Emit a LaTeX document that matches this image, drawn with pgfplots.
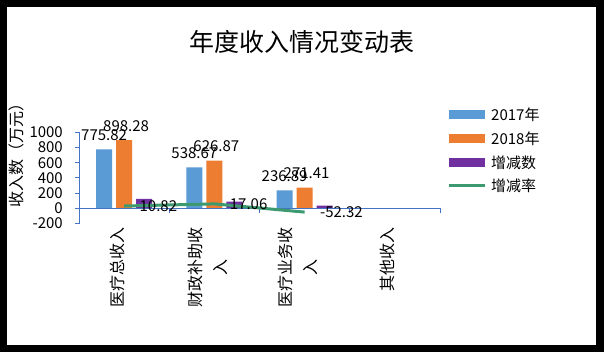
\documentclass[border=0pt]{standalone}
\usepackage{fontspec}
\setmainfont{Noto Sans CJK SC}
\usepackage{pgfplots}
\pgfplotsset{compat=1.18}
\definecolor{c17}{HTML}{5B9BD5}
\definecolor{c18}{HTML}{ED7D31}
\definecolor{cdiff}{HTML}{7030A0}
\definecolor{crate}{HTML}{3D9970}
\definecolor{axb}{HTML}{4472C4}
\begin{document}
\begin{tikzpicture}
\fill[black] (0,0) rectangle (604bp,352bp);
\fill[white] (7bp,7bp) rectangle (596bp,345bp);
\node[font=\fontsize{25bp}{30bp}\selectfont] at (301.5bp,310bp) {年度收入情况变动表};
\node[rotate=90,font=\fontsize{16bp}{19bp}\selectfont] at (16bp,200bp) {收入数（万元）};
\begin{axis}[
  at={(79bp,128.5bp)}, anchor=south west,
  width=361bp, height=91.2bp, scale only axis,
  xmin=-0.5, xmax=3.5, ymin=-200, ymax=1000,
  axis lines*=left,
  x axis line style={draw=none},
  y axis line style={draw=axb, line width=0.8bp, -},
  xtick={0,1,2,3},
  xticklabels={医疗总收入,{财政补助收\\入},{医疗业务收\\入},其他收入},
  x tick style={draw=none},
  xticklabel style={rotate=90, anchor=east, align=center, inner sep=0pt,
    font=\fontsize{16bp}{25bp}\selectfont, yshift=7bp},
  ytick={-200,0,200,400,600,800,1000},
  yticklabels={-200,0,200,400,600,800,1000},
  y tick style={draw=axb, line width=0.8bp},
  tick align=outside, major tick length=4bp,
  yticklabel style={font=\fontsize{15bp}{18bp}\selectfont, inner sep=0pt, xshift=-12bp},
  /pgf/number format/assume math mode=true,
  clip=false,
  legend style={at={(1.0194,1.255)}, anchor=north west, draw=none, fill=none,
    inner sep=0pt, row sep=10.9bp, font=\fontsize{15bp}{18bp}\selectfont,
    nodes={inner sep=0pt, text height=11bp, text depth=2bp},
    /tikz/every odd column/.style={column sep=5bp}},
  legend cell align=left,
]
\addplot[ybar, bar width=16bp, bar shift=-20bp, fill=c17, draw=none,
  point meta=explicit symbolic, nodes near coords,
  nodes near coords style={font=\fontsize{15bp}{18bp}\selectfont, anchor=south, inner sep=0pt, yshift=8.5bp, xshift=-20bp, text=black},
  legend image code/.code={\fill[c17] (0bp,-3bp) rectangle (36bp,6bp);}]
  coordinates {(0,775.82)[775.82] (1,538.67)[538.67] (2,236.89)[236.89]};
\addlegendentry{2017年}
\addplot[ybar, bar width=16bp, bar shift=0bp, fill=c18, draw=none,
  point meta=explicit symbolic, nodes near coords,
  nodes near coords style={font=\fontsize{15bp}{18bp}\selectfont, anchor=south, inner sep=0pt, yshift=8.5bp, xshift=2bp, text=black},
  legend image code/.code={\fill[c18] (0bp,-3bp) rectangle (36bp,6bp);}]
  coordinates {(0,898.28)[898.28] (1,626.87)[626.87] (2,271.41)[271.41]};
\addlegendentry{2018年}
\addplot[ybar, bar width=16bp, bar shift=20bp, fill=cdiff, draw=none,
  legend image code/.code={\fill[cdiff] (0bp,-3bp) rectangle (36bp,6bp);}]
  coordinates {(0,122.46) (1,88.20) (2,34.52)};
\addlegendentry{增减数}
\draw[axb, line width=0.8bp] (axis cs:-0.5,0) -- (axis cs:3.5,0);
\draw[axb, line width=0.8bp] (axis cs:0.5,0) -- ([yshift=-5bp]axis cs:0.5,0);
\draw[axb, line width=0.8bp] (axis cs:1.5,0) -- ([yshift=-5bp]axis cs:1.5,0);
\draw[axb, line width=0.8bp] (axis cs:2.5,0) -- ([yshift=-5bp]axis cs:2.5,0);
\draw[axb, line width=0.8bp] (axis cs:3.5,0) -- ([yshift=-5bp]axis cs:3.5,0);
\addplot[sharp plot, color=crate, line width=3bp, mark=none,
  point meta=explicit symbolic, nodes near coords,
  nodes near coords style={font=\fontsize{15bp}{18bp}\selectfont, anchor=west, inner sep=0pt, xshift=14bp, text=black},
  legend image code/.code={\draw[crate, line width=3bp] (0bp,1.5bp) -- (36bp,1.5bp);}]
  coordinates {(0,30)[10.82] (1,58)[17.06] (2,-50)[-52.32]};
\addlegendentry{增减率}
\end{axis}
\end{tikzpicture}
\end{document}
